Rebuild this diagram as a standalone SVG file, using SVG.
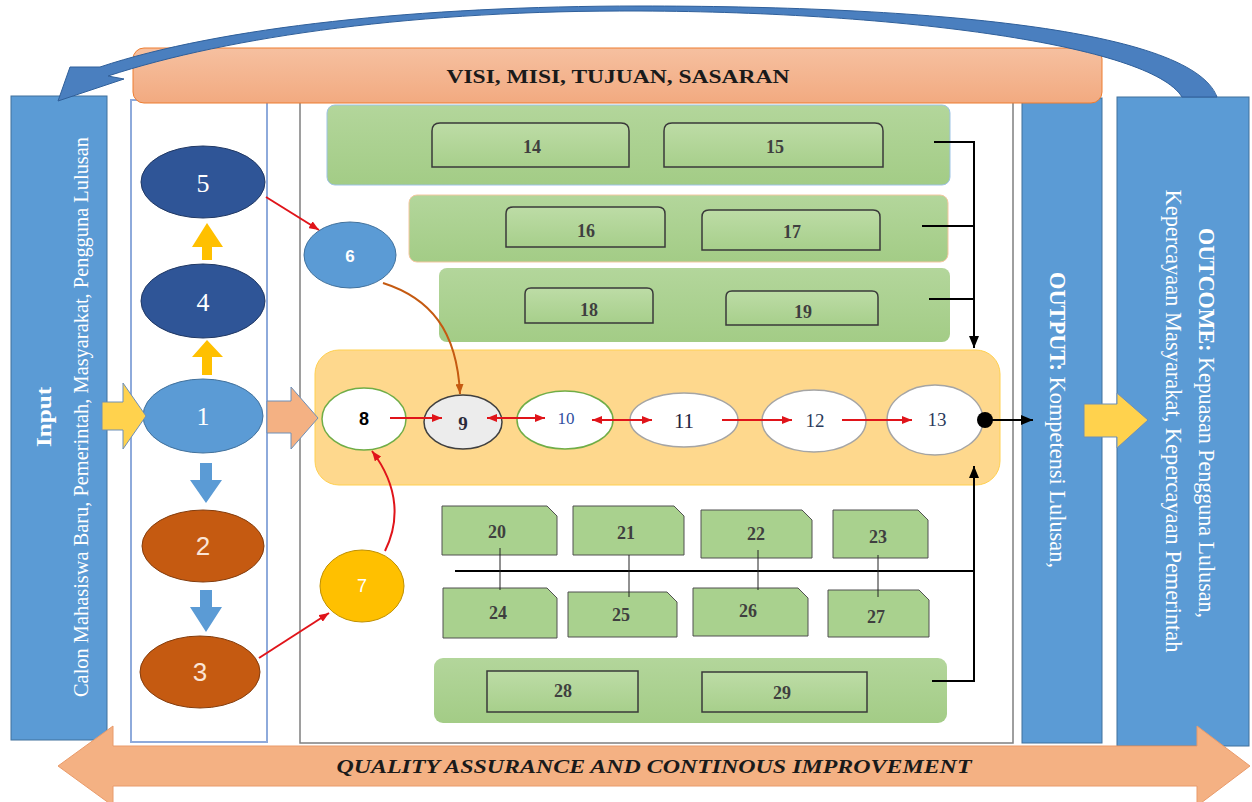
<svg xmlns="http://www.w3.org/2000/svg" width="1252" height="802" viewBox="0 0 1252 802">
<style>
.bar{fill:#5b9bd5;stroke:#41719c;stroke-width:1}
.wt{fill:#ffffff;font-family:"Liberation Serif",serif}
.num{font-family:"Liberation Serif",serif;font-weight:bold;fill:#3f3f3f;font-size:18px;text-anchor:middle;dominant-baseline:central}
.panel{fill:url(#gpanel)}
.box{fill:url(#gbox);stroke:#3a3a3a;stroke-width:1.5}
.snip{fill:#a9d18e;stroke:#505050;stroke-width:1}
.red{stroke:#e0141a;stroke-width:2;fill:none}
.blk{stroke:#000;stroke-width:2;fill:none}
.thin{stroke:#222;stroke-width:1;fill:none}
.ell{fill:#fff}
.rowtxt{font-family:"Liberation Serif",serif;text-anchor:middle;dominant-baseline:central}
.big{font-size:26px;text-anchor:middle;dominant-baseline:central}
</style>
<defs>
<linearGradient id="gpanel" x1="0" y1="0" x2="0" y2="1"><stop offset="0" stop-color="#b3d69b"/><stop offset="1" stop-color="#a3cc86"/></linearGradient>
<linearGradient id="gbox" x1="0" y1="0" x2="0" y2="1"><stop offset="0" stop-color="#bddca6"/><stop offset="1" stop-color="#a7cf8b"/></linearGradient>
<linearGradient id="gban" x1="0" y1="0" x2="0" y2="1"><stop offset="0" stop-color="#f6c0a0"/><stop offset="1" stop-color="#f2aa80"/></linearGradient>
<marker id="ar" viewBox="0 0 10 8" refX="10" refY="4" markerWidth="10" markerHeight="8" markerUnits="userSpaceOnUse" orient="auto-start-reverse"><path d="M0,0 L10,4 L0,8 z" fill="#e0141a"/></marker>
<marker id="ab" viewBox="0 0 12 10" refX="12" refY="5" markerWidth="12" markerHeight="10" markerUnits="userSpaceOnUse" orient="auto"><path d="M0,0 L12,5 L0,10 z" fill="#000"/></marker>
<marker id="ao" viewBox="0 0 10 8" refX="10" refY="4" markerWidth="10" markerHeight="8" markerUnits="userSpaceOnUse" orient="auto"><path d="M0,0 L10,4 L0,8 z" fill="#c55a11"/></marker>
</defs>
<rect width="1252" height="802" fill="#ffffff"/>

<g id="frames">
<rect x="131" y="100" width="136" height="642" fill="#fff" stroke="#8eaadb" stroke-width="2"/>
<rect x="300" y="100" width="713" height="643" fill="#fff" stroke="#7f7f7f" stroke-width="1.5"/>
</g>

<g id="input">
<rect class="bar" x="11" y="96" width="96" height="644"/>
<text class="wt" transform="translate(51,417) rotate(-90)" text-anchor="middle" font-weight="bold" font-size="22" textLength="60" lengthAdjust="spacingAndGlyphs">Input</text>
<text class="wt" transform="translate(88,417) rotate(-90)" text-anchor="middle" font-size="22" textLength="560" lengthAdjust="spacingAndGlyphs">Calon Mahasiswa Baru, Pemerintah, Masyarakat, Pengguna Lulusan</text>
</g>

<g id="output">
<rect class="bar" x="1022" y="98" width="80" height="645"/>
<text class="wt" transform="translate(1050,420) rotate(90)" text-anchor="middle" font-size="24" textLength="296" lengthAdjust="spacingAndGlyphs"><tspan font-weight="bold">OUTPUT:</tspan> Kompetensi Lulusan,</text>
</g>

<g id="outcome">
<rect class="bar" x="1117" y="97" width="132" height="649"/>
<text class="wt" transform="translate(1199,423) rotate(90)" text-anchor="middle" font-size="24" textLength="390" lengthAdjust="spacingAndGlyphs"><tspan font-weight="bold">OUTCOME:</tspan> Kepuasan Pengguna Lulusan,</text>
<text class="wt" transform="translate(1166,421) rotate(90)" text-anchor="middle" font-size="23" textLength="463" lengthAdjust="spacingAndGlyphs">Kepercayaan Masyarakat, Kepercayaan Pemerintah</text>
</g>

<g id="banner">
<rect x="133" y="48" width="969" height="55" rx="11" fill="url(#gban)" stroke="#ed7d31" stroke-width="1"/>
<text x="618" y="83" text-anchor="middle" font-family="Liberation Serif,serif" font-weight="bold" font-size="18" fill="#1a1a1a" textLength="343" lengthAdjust="spacingAndGlyphs">VISI, MISI, TUJUAN, SASARAN</text>
</g>

<g id="feedback-arrow">
<path d="M 1182 97 C 1150 45, 900 12, 640 11 C 420 10, 230 36, 108 76 L 124 79 L 58 101 L 70 67 L 100 67 C 220 27, 420 6, 640 6 C 900 6, 1190 25, 1217 97 Z" fill="#4a7fbf" stroke="#2f5f9a" stroke-width="1"/>
</g>

<g id="n5"><ellipse cx="203" cy="182" rx="62" ry="36" fill="#2f5597" stroke="#203864"/><text class="wt big" x="203" y="183">5</text></g>
<g id="n4"><ellipse cx="203" cy="301" rx="62" ry="37" fill="#2f5597" stroke="#203864"/><text class="wt big" x="203" y="302">4</text></g>
<g id="n1"><ellipse cx="203" cy="416" rx="60" ry="37" fill="#5b9bd5" stroke="#41719c"/><text class="wt big" x="203" y="416">1</text></g>
<g id="n2"><ellipse cx="203" cy="546" rx="61" ry="36" fill="#c55a11" stroke="#843c0c"/><text x="203" y="546" font-family="Liberation Sans,sans-serif" fill="#fbe5d6" class="big">2</text></g>
<g id="n3"><ellipse cx="200" cy="672" rx="60" ry="36" fill="#c55a11" stroke="#843c0c"/><text x="200" y="672" font-family="Liberation Sans,sans-serif" fill="#fbe5d6" class="big">3</text></g>

<g id="n6"><ellipse cx="350" cy="255" rx="46" ry="33" fill="#5b9bd5" stroke="#41719c"/><text x="350" y="256" font-family="Liberation Sans,sans-serif" font-weight="bold" font-size="17" fill="#fff" text-anchor="middle" dominant-baseline="central">6</text></g>
<g id="n7"><ellipse cx="362" cy="586" rx="42" ry="36" fill="#ffc000" stroke="#bf9000"/><text x="362" y="586" font-family="Liberation Sans,sans-serif" font-size="18" fill="#fff" text-anchor="middle" dominant-baseline="central">7</text></g>

<g id="process">
<rect x="315" y="350" width="685" height="135" rx="24" fill="#fed88d" stroke="#ffd050" stroke-width="1"/>
</g>
<g id="n8"><ellipse cx="364" cy="419" rx="42" ry="31" class="ell" stroke="#70ad47" stroke-width="1.5"/><text x="364" y="419" font-family="Liberation Sans,sans-serif" font-weight="bold" font-size="18" fill="#000" text-anchor="middle" dominant-baseline="central">8</text></g>
<g id="n9"><ellipse cx="463" cy="422" rx="39" ry="27" fill="#ececec" stroke="#404040" stroke-width="1.5"/><text class="rowtxt" x="463" y="423" font-weight="bold" font-size="19" fill="#2a2a3a">9</text></g>
<g id="n10"><ellipse cx="565" cy="420" rx="48" ry="29" class="ell" stroke="#70ad47" stroke-width="1.5"/><text class="rowtxt" x="566" y="418" font-size="17" fill="#2f4f9f">10</text></g>
<g id="n11"><ellipse cx="684" cy="420" rx="54" ry="27" class="ell" stroke="#a5a5a5" stroke-width="1.5"/><text class="rowtxt" x="684" y="421" font-size="21" fill="#1f2340">11</text></g>
<g id="n12"><ellipse cx="814" cy="421" rx="52" ry="31" class="ell" stroke="#a5a5a5" stroke-width="1.5"/><text class="rowtxt" x="815" y="420" font-size="19" fill="#2a3a5a">12</text></g>
<g id="n13"><ellipse cx="935" cy="420" rx="48" ry="35" class="ell" stroke="#a5a5a5" stroke-width="1.5"/><text class="rowtxt" x="937" y="419" font-size="19" fill="#2a3a5a">13</text></g>

<g id="panel-a"><rect class="panel" x="327" y="105" width="623" height="80" rx="8" stroke="#9dc3e6" stroke-width="1"/></g>
<g id="n14"><path class="box" d="M432 167 V131 Q432 123 440 123 H621 Q629 123 629 131 V167 Z"/><text class="num" x="532" y="147">14</text></g>
<g id="n15"><path class="box" d="M664 167 V131 Q664 123 672 123 H875 Q883 123 883 131 V167 Z"/><text class="num" x="775" y="147">15</text></g>
<g id="panel-b"><rect class="panel" x="409" y="195" width="539" height="67" rx="8" stroke="#f4c7a0" stroke-width="1"/></g>
<g id="n16"><path class="box" d="M506 247 V214 Q506 207 513 207 H658 Q665 207 665 214 V247 Z"/><text class="num" x="586" y="231">16</text></g>
<g id="n17"><path class="box" d="M702 250 V217 Q702 210 709 210 H873 Q880 210 880 217 V250 Z"/><text class="num" x="792" y="232">17</text></g>
<g id="panel-c"><rect class="panel" x="439" y="268" width="511" height="74" rx="8"/></g>
<g id="n18"><path class="box" d="M525 323 V294 Q525 288 531 288 H647 Q653 288 653 294 V323 Z"/><text class="num" x="589" y="310">18</text></g>
<g id="n19"><path class="box" d="M726 325 V297 Q726 291 732 291 H872 Q878 291 878 297 V325 Z"/><text class="num" x="803" y="312">19</text></g>

<g id="n20"><path class="snip" d="M442 506 H547 L557 516 V555 H442 Z"/><text class="num" x="497" y="532">20</text></g>
<g id="n21"><path class="snip" d="M573 506 H674 L684 516 V555 H573 Z"/><text class="num" x="626" y="533">21</text></g>
<g id="n22"><path class="snip" d="M701 510 H802 L812 520 V558 H701 Z"/><text class="num" x="756" y="534">22</text></g>
<g id="n23"><path class="snip" d="M833 510 H918 L928 520 V558 H833 Z"/><text class="num" x="878" y="537">23</text></g>
<g id="n24"><path class="snip" d="M443 588 H547 L557 598 V638 H443 Z"/><text class="num" x="498" y="613">24</text></g>
<g id="n25"><path class="snip" d="M568 592 H667 L677 602 V637 H568 Z"/><text class="num" x="621" y="615">25</text></g>
<g id="n26"><path class="snip" d="M693 588 H798 L808 598 V636 H693 Z"/><text class="num" x="748" y="611">26</text></g>
<g id="n27"><path class="snip" d="M828 590 H919 L929 600 V637 H828 Z"/><text class="num" x="876" y="617">27</text></g>

<g id="panel-d"><rect class="panel" x="434" y="658" width="513" height="65" rx="9"/></g>
<g id="n28"><rect class="box" x="487" y="671" width="151" height="41"/><text class="num" x="563" y="691">28</text></g>
<g id="n29"><rect class="box" x="702" y="672" width="165" height="40"/><text class="num" x="782" y="693">29</text></g>

<g id="connectors">
<path d="M102 402 H123 V383 L146 416 L123 449 V430 H102 Z" fill="#ffd24d" stroke="#6d8fb8" stroke-width="1"/>
<path d="M267 401 H291 V387 L318 418 L291 449 V433 H267 Z" fill="#f4b183" stroke="#6d8fb8" stroke-width="1"/>
<path d="M1084 404 H1117 V393 L1148 420 L1117 448 V437 H1084 Z" fill="#ffd24d" stroke="#6d8fb8" stroke-width="1"/>
<path d="M202 260 V247 H192 L207 223 L223 247 H212 V260 Z" fill="#ffc000"/>
<path d="M202 375 V357 H192 L207 340 L223 357 H212 V375 Z" fill="#ffc000"/>
<path d="M200 463 V480 H190 L206 503 L222 480 H212 V463 Z" fill="#5b9bd5"/>
<path d="M200 590 V607 H190 L206 632 L222 607 H212 V590 Z" fill="#5b9bd5"/>
<line class="red" x1="266" y1="197" x2="319" y2="230" marker-end="url(#ar)"/>
<line class="red" x1="259" y1="658" x2="329" y2="613" marker-end="url(#ar)"/>
<path class="red" d="M385 551 C 399 523, 400 488, 372 451" marker-end="url(#ar)"/>
<path d="M383 283 C 430 298, 457 330, 460 394" fill="none" stroke="#c55a11" stroke-width="2" marker-end="url(#ao)"/>
<line class="red" x1="390" y1="418" x2="442" y2="418" marker-end="url(#ar)"/>
<line class="red" x1="487" y1="418" x2="545" y2="418" marker-start="url(#ar)" marker-end="url(#ar)"/>
<line class="red" x1="592" y1="420" x2="652" y2="420" marker-start="url(#ar)" marker-end="url(#ar)"/>
<line class="red" x1="722" y1="420" x2="792" y2="420" marker-end="url(#ar)"/>
<line class="red" x1="842" y1="420" x2="912" y2="420" marker-end="url(#ar)"/>
<circle cx="985" cy="420" r="8" fill="#000"/>
<line class="blk" x1="985" y1="420" x2="1033" y2="420" stroke-width="3" marker-end="url(#ab)"/>
<polyline class="blk" points="934,142 974,142 974,348" marker-end="url(#ab)"/>
<line class="blk" x1="922" y1="226" x2="974" y2="226"/>
<line class="blk" x1="929" y1="299" x2="974" y2="299"/>
<polyline class="blk" points="932,681 974,681 974,466" marker-end="url(#ab)"/>
<line class="blk" x1="455" y1="571" x2="974" y2="571" stroke-width="1.5"/>
<line class="thin" x1="500" y1="548" x2="500" y2="590"/>
<line class="thin" x1="629" y1="555" x2="629" y2="597"/>
<line class="thin" x1="758" y1="550" x2="758" y2="590"/>
<line class="thin" x1="878" y1="555" x2="878" y2="597"/>
</g>

<g id="qa">
<path d="M58 766 L113 726 V746 H1197 V726 L1250 766 L1197 806 V786 H113 V806 Z" fill="#f4b183" stroke="#e99a6a" stroke-width="1"/>
<text x="654" y="773" text-anchor="middle" font-family="Liberation Serif,serif" font-weight="bold" font-style="italic" font-size="19" fill="#1a1a1a" textLength="635" lengthAdjust="spacingAndGlyphs">QUALITY ASSURANCE AND CONTINOUS IMPROVEMENT</text>
</g>
</svg>
